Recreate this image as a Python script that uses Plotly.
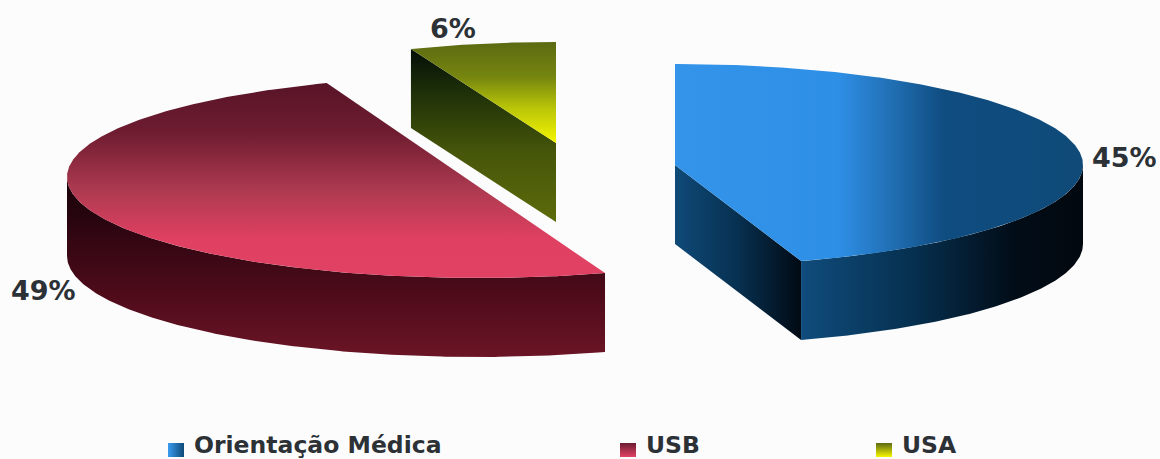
import numpy as np
import plotly.graph_objects as go

categories = ["Orientação Médica", "USB", "USA"]
values = [45, 49, 6]
pct_labels = ["45%", "49%", "6%"]

W, H = 1160, 459
RY, DEPTH = 101, 79
BG = "#fcfcfd"
FONT = "DejaVu Sans"
INK = "#2c3136"

# position and width of each exploded slice on the canvas
apex = {"Orientação Médica": (675, 165), "USB": (478, 177), "USA": (556, 143)}
rx_of = {"Orientação Médica": 408, "USB": 411, "USA": 394}
label_pos = {"Orientação Médica": (1124, 157), "USB": (43, 290), "USA": (453, 28)}
legend_x = {"Orientação Médica": 168, "USB": 620, "USA": 876}

top_grad = {
    "Orientação Médica": ("horizontal", [[0, "#3394ea"], [0.4, "#2e8fe6"], [0.52, "#2272b8"], [0.66, "#0f4c80"], [1, "#0f4a78"]]),
    "USB": ("vertical", [[0, "#e14264"], [0.2, "#e04062"], [0.45, "#ad3a50"], [0.75, "#6e1c30"], [1, "#581427"]]),
    "USA": ("vertical", [[0, "#f6f600"], [0.35, "#b8c408"], [0.65, "#76860f"], [1, "#5c6a12"]]),
}
outer_grad = {
    "Orientação Médica": ("horizontal", [[0, "#0f4c7c"], [0.4, "#06304f"], [0.75, "#020d18"], [1, "#02080f"]]),
    "USB": ("vertical", [[0, "#6b1526"], [0.35, "#4e0b1a"], [0.75, "#2a0510"], [1, "#160208"]]),
}
inner_grad = {
    "Orientação Médica": ("horizontal", [[0, "#0f4a78"], [0.5, "#073050"], [1, "#010a14"]]),
    "USA": ("vertical", [[0, "#5d6b0a"], [0.4, "#46560a"], [0.75, "#1e3008"], [1, "#030e08"]]),
}
legend_grad = {
    "Orientação Médica": ("horizontal", [[0, "#3a9cf0"], [1, "#0f4a78"]]),
    "USB": ("vertical", [[0, "#e14264"], [1, "#6b1c30"]]),
    "USA": ("vertical", [[0, "#f6f600"], [1, "#5c6a12"]]),
}


def poly(x, y, grad):
    kind, scale = grad
    return go.Scatter(x=x, y=y, mode="lines", fill="toself", line=dict(width=0),
                      fillgradient=dict(type=kind, colorscale=scale),
                      hoverinfo="skip", showlegend=False)


def arc(cx, cy, rx, t0, t1):
    t = np.radians(np.linspace(t0, t1, max(int(abs(t1 - t0)) * 2, 2)))
    return cx + rx * np.cos(t), cy + RY * np.sin(t)


# Slice sweeps, clockwise on screen from 12 o'clock, in ellipse-parameter degrees
starts = (270 + np.cumsum([0] + values[:-1]) * 3.6) % 360
spans = np.array(values) * 3.6

fig = go.Figure()
for i in [2, 1, 0]:
    name = categories[i]
    cx, cy = apex[name]
    rx = rx_of[name]
    t0, t1 = starts[i], starts[i] + spans[i]
    ax, ay = arc(cx, cy, rx, t0, t1)

    # cut wall seen from the front
    if name == "USA":
        wx, wy = [ax[0], cx, cx, ax[0]], [ay[0], cy, cy + DEPTH, ay[0] + DEPTH]
        fig.add_trace(poly(wx, wy, inner_grad[name]))
    if name == "Orientação Médica":
        wx, wy = [ax[-1], cx, cx, ax[-1]], [ay[-1], cy, cy + DEPTH, ay[-1] + DEPTH]
        fig.add_trace(poly(wx, wy, inner_grad[name]))

    # outer rim: the part of the arc facing the viewer (ellipse angle 0..180)
    if name in outer_grad:
        for k in (0, 360):
            a, b = max(t0, k), min(t1, k + 180)
            if b > a:
                rimx, rimy = arc(cx, cy, rx, a, b)
                fig.add_trace(poly(np.r_[rimx, rimx[::-1]], np.r_[rimy, rimy[::-1] + DEPTH], outer_grad[name]))

    # top face; the near-half USB slice closes along its straight chord
    if name == "USB":
        fig.add_trace(poly(np.r_[ax, ax[0]], np.r_[ay, ay[0]], top_grad[name]))
    else:
        fig.add_trace(poly(np.r_[cx, ax, cx], np.r_[cy, ay, cy], top_grad[name]))

annotations = []
for name, lab in zip(categories, pct_labels):
    x, y = label_pos[name]
    annotations.append(dict(x=x, y=y, text=lab, showarrow=False, xanchor="center", yanchor="middle",
                            font=dict(family=FONT, size=27, color=INK, weight="bold")))
    lx = legend_x[name]
    fig.add_trace(poly([lx, lx + 16, lx + 16, lx, lx], [443, 443, 457, 457, 443], legend_grad[name]))
    annotations.append(dict(x=lx + 24, y=445, text=name, showarrow=False, xanchor="left", yanchor="middle",
                            font=dict(family=FONT, size=23.5, color=INK, weight="bold")))

fig.update_layout(
    width=W, height=H, margin=dict(l=0, r=0, t=0, b=0),
    paper_bgcolor=BG, plot_bgcolor=BG, showlegend=False,
    xaxis=dict(range=[0, W], visible=False, fixedrange=True),
    yaxis=dict(range=[H, 0], visible=False, fixedrange=True),
    annotations=annotations,
)
fig.write_html("out.html", config={"displayModeBar": False},
               post_script="document.body.style.margin='0';document.body.style.background='%s';" % BG)
